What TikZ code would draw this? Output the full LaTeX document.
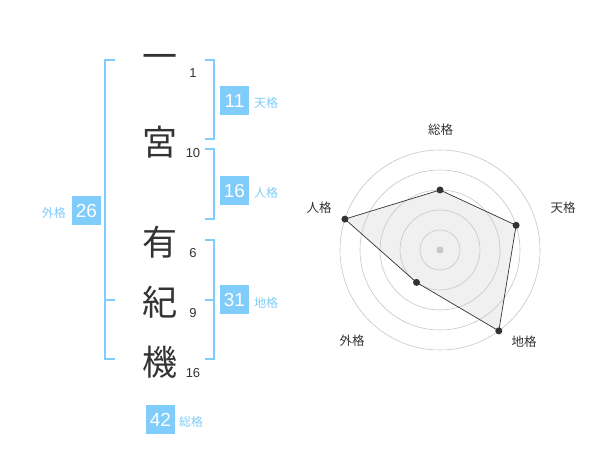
\documentclass[tikz,border=0pt]{standalone}
\usepackage{fontspec}
\setmainfont{Liberation Sans}
\newfontfamily\jp{Noto Sans CJK JP}
\definecolor{fblue}{HTML}{80CCFA}
\definecolor{ink}{HTML}{333333}
\begin{document}
\begin{tikzpicture}[x=1pt,y=-1pt,
 kanji/.style={font=\jp\fontsize{35}{35}\selectfont, text=ink, inner sep=0},
 strokes/.style={font=\fontsize{13}{13}\selectfont, text=ink, inner sep=0},
 numbox/.style={fill=fblue, text=white, minimum size=29pt, inner sep=0, font=\fontsize{19}{19}\selectfont},
 kaku/.style={font=\jp\fontsize{12}{12}\selectfont, text=fblue, inner sep=0},
 brk/.style={draw=fblue, line width=2pt},
 ring/.style={draw=black!22, line width=0.6pt},
 axlab/.style={font=\jp\fontsize{12.5}{12.5}\selectfont, text=ink, inner sep=0},
 dot/.style={circle, fill=ink, inner sep=0, minimum size=7pt},
]
\useasboundingbox (0,0) rectangle (600,470);
% name characters
\node[kanji] (c1) at (160,62) {一};
\node[kanji] (c2) at (160,142) {宮};
\node[kanji] (c3) at (160,242) {有};
\node[kanji] (c4) at (160,302) {紀};
\node[kanji] (c5) at (160,362) {機};
\node[strokes] (n1) at (193,73) {1};
\node[strokes] (n2) at (193,153) {10};
\node[strokes] (n3) at (193,253) {6};
\node[strokes] (n4) at (193,313) {9};
\node[strokes] (n5) at (193,373) {16};
% brackets
\draw[brk] (205,60) -- (214,60) -- (214,139) -- (205,139);
\draw[brk] (205,149) -- (214,149) -- (214,219) -- (205,219);
\draw[brk] (205,240) -- (214,240) -- (214,359) -- (205,359);
\draw[brk] (205,300) -- (214,300);
\draw[brk] (115,60) -- (105,60) -- (105,359) -- (115,359);
\draw[brk] (105,300) -- (115,300);
% boxes
\node[numbox] (ten) at (234.5,100.5) {11};
\node[kaku, anchor=west] (tenl) at (254,103) {天格};
\node[numbox] (jin) at (234.5,190.5) {16};
\node[kaku, anchor=west] (jinl) at (254,193) {人格};
\node[numbox] (chi) at (234.5,300) {31};
\node[kaku, anchor=west] (chil) at (254,303) {地格};
\node[numbox] (gai) at (86.5,210.5) {26};
\node[kaku, anchor=east] (gail) at (66,213) {外格};
\node[numbox] (sou) at (160.5,419.5) {42};
\node[kaku, anchor=west] (soul) at (179,422) {総格};
% radar
\coordinate (O) at (440,250);
\coordinate (pS) at (440,190);
\coordinate (pT) at (516.1,225.3);
\coordinate (pC) at (498.8,330.9);
\coordinate (pG) at (416.5,282.4);
\coordinate (pJ) at (344.9,219.1);
\fill[black!6] (pS) -- (pT) -- (pC) -- (pG) -- (pJ) -- cycle;
\foreach \r in {20,40,60,80,100} \draw[ring] (O) circle[radius=\r];
\fill[black!22] (O) circle[radius=3.5];
\draw[draw=ink, line width=0.7pt] (pS) -- (pT) -- (pC) -- (pG) -- (pJ) -- cycle;
\foreach \p in {pS,pT,pC,pG,pJ} \node[dot] at (\p) {};
\node[axlab] (lS) at (440.5,130) {総格};
\node[axlab] (lT) at (563,208) {天格};
\node[axlab] (lC) at (524,342) {地格};
\node[axlab] (lG) at (352,341) {外格};
\node[axlab] (lJ) at (319,208) {人格};
\end{tikzpicture}
\end{document}
